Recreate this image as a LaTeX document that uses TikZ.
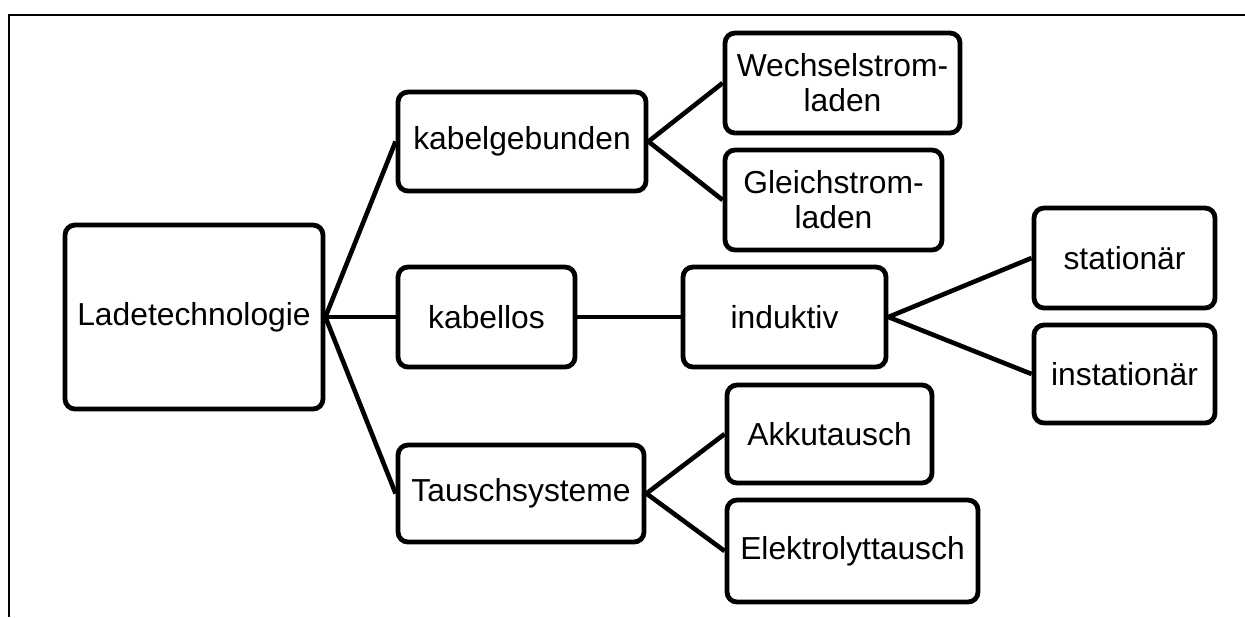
\documentclass[tikz,border=0pt]{standalone}
\usepackage{fontspec}
\setmainfont{Liberation Sans}
\begin{document}
\begin{tikzpicture}[x=0.5pt,y=-0.5pt,
  box/.style={draw=black, line width=2.4pt, rounded corners=5pt, fill=white,
    inner sep=0pt, align=center, font=\fontsize{15.9pt}{17.5pt}\selectfont},
  link/.style={draw=black, line width=2.3pt}]
\useasboundingbox (0,0) rectangle (1245,617);
\draw[line width=1.2pt] (9,617) -- (9,15) -- (1245,15);
\node[box, minimum width=129pt, minimum height=92pt] (lade) at (194,317) {Ladetechnologie};
\node[box, minimum width=124pt, minimum height=49.5pt] (kabelg) at (522,141.5) {kabelgebunden};
\node[box, minimum width=88.5pt, minimum height=50pt] (kabellos) at (486.5,317) {kabellos};
\node[box, minimum width=123pt, minimum height=48.5pt] (tausch) at (521,493.5) {Tauschsysteme};
\node[box, minimum width=117.5pt, minimum height=50pt] (wechsel) at (842.5,83) {Wechselstrom-\\laden};
\node[box, minimum width=108.5pt, minimum height=50pt] (gleich) at (833.5,200) {Gleichstrom-\\laden};
\node[box, minimum width=101.5pt, minimum height=50pt] (induktiv) at (784.5,317) {induktiv};
\node[box, minimum width=90.5pt, minimum height=50pt] (stat) at (1124.5,258) {stationär};
\node[box, minimum width=90.5pt, minimum height=49pt] (instat) at (1124.5,374) {instationär};
\node[box, minimum width=102.5pt, minimum height=49pt] (akku) at (829.5,434) {Akkutausch};
\node[box, minimum width=125.5pt, minimum height=51pt] (elektro) at (852.5,551) {Elektrolyttausch};
\draw[link] (lade.east) -- (kabelg.west);
\draw[link] (lade.east) -- (kabellos.west);
\draw[link] (lade.east) -- (tausch.west);
\draw[link] (kabelg.east) -- (wechsel.west);
\draw[link] (kabelg.east) -- (gleich.west);
\draw[link] (kabellos.east) -- (induktiv.west);
\draw[link] (induktiv.east) -- (stat.west);
\draw[link] (induktiv.east) -- (instat.west);
\draw[link] (tausch.east) -- (akku.west);
\draw[link] (tausch.east) -- (elektro.west);
\end{tikzpicture}
\end{document}
